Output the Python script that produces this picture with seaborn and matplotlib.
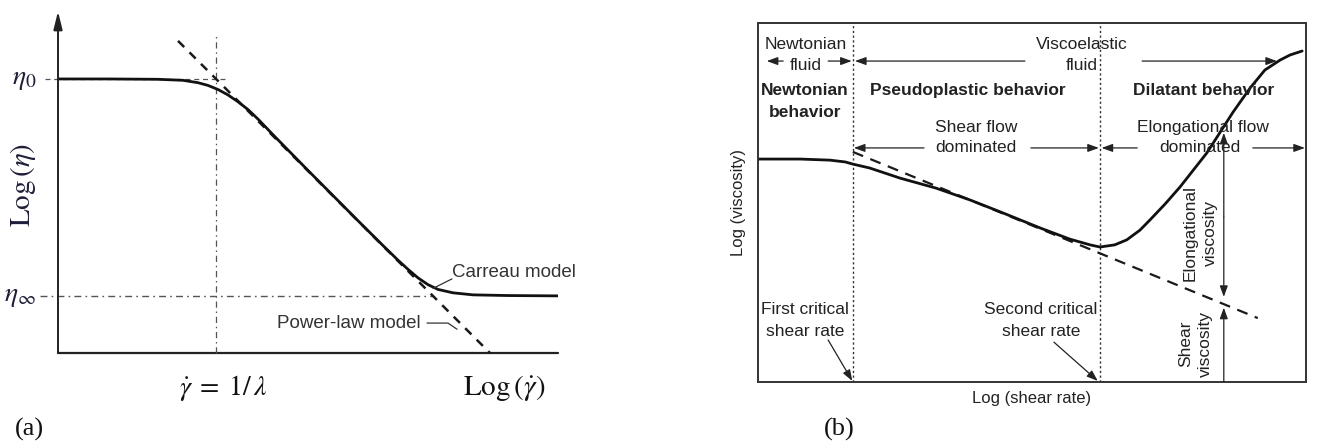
import matplotlib
matplotlib.use("Agg")
import matplotlib.pyplot as plt
import seaborn as sns
import pandas as pd

# ---------------- data: panel (a) Carreau vs power-law ----------------
log_rate_a = [0.0, 1.0, 2.0, 2.5, 2.8, 3.0, 3.2, 3.4, 3.6, 3.8, 4.0, 4.3, 5.0,
              6.0, 6.5, 6.8, 7.0, 7.2, 7.4, 7.6, 7.9, 8.3, 9.0, 10.0]
log_visc_a = [8.06, 8.06, 8.05, 8.02, 7.95, 7.87, 7.75, 7.59, 7.39, 7.16, 6.88,
              6.42, 5.37, 3.89, 3.16, 2.73, 2.46, 2.21, 2.01, 1.87, 1.77, 1.71,
              1.69, 1.68]
power_law_rate = [2.40, 8.64]
power_law_visc = [9.18, 0.0]
eta_zero = 8.06
eta_inf = 1.68
rate_lambda = 3.16

# ---------------- data: panel (b) shear / elongational regimes ----------------
log_rate_b = [0.0, 0.77, 1.31, 1.59, 1.73, 2.04, 2.59, 3.25, 3.87, 4.42, 5.15,
              5.69, 6.06, 6.24, 6.51, 6.73, 6.97, 7.15, 7.43, 7.70, 8.19, 8.67,
              8.98, 9.25, 9.53, 9.71, 9.93]
log_visc_b = [6.21, 6.21, 6.18, 6.13, 6.07, 5.96, 5.68, 5.40, 5.07, 4.74, 4.29,
              3.98, 3.82, 3.76, 3.82, 3.96, 4.23, 4.51, 4.96, 5.43, 6.38, 7.52,
              8.19, 8.69, 8.97, 9.11, 9.22]
tangent_rate = [1.73, 9.12]
tangent_visc = [6.41, 1.78]
first_critical = 1.73
second_critical = 6.24
probe_rate = 8.50
probe_elong = 7.02
probe_shear = 2.17

sns.set_theme(style="white")
plt.rcParams["font.family"] = ["Liberation Sans", "DejaVu Sans"]
plt.rcParams["mathtext.fontset"] = "stix"

W, H = 1317, 441
fig = plt.figure(figsize=(W / 100, H / 100), dpi=100)
fig.patch.set_facecolor("white")

SERIF = ["Liberation Serif", "DejaVu Serif"]
INK = "#1e1e38"

# ======================= panel (a) =======================
axA = fig.add_axes([58 / W, (H - 353) / H, 500 / W, 340 / H])
axA.set_xlim(0, 10)
axA.set_ylim(0, 10)
axA.axis("off")

# axes with arrow on the viscosity axis
axA.plot([0, 10], [0, 0], color="#222", lw=1.6, clip_on=False)
axA.annotate("", xy=(0, 10.05), xytext=(0, 0),
             arrowprops=dict(arrowstyle="-|>,head_length=0.9,head_width=0.22",
                             color="#222", lw=1.4, shrinkA=0, shrinkB=0),
             annotation_clip=False)

# reference lines
axA.plot([-0.26, 3.36], [eta_zero, eta_zero], color="#555", lw=0.9,
         linestyle=(0, (4, 3)), clip_on=False)
axA.plot([-0.36, 7.5], [eta_inf, eta_inf], color="#555", lw=1.0,
         linestyle=(0, (5, 3, 1.2, 3)), clip_on=False)
axA.plot([rate_lambda, rate_lambda], [0, 9.32], color="#555", lw=0.9,
         linestyle=(0, (5, 3, 1.2, 3)), clip_on=False)

# power-law asymptote and Carreau curve
axA.plot(power_law_rate, power_law_visc, color="#1a1a1a", lw=1.8,
         linestyle=(0, (3.5, 3)))
df_a = pd.DataFrame({"rate": log_rate_a, "visc": log_visc_a})
sns.lineplot(data=df_a, x="rate", y="visc", ax=axA, color="#111", lw=2.0,
             sort=False, estimator=None)
axA.set_xlabel("")
axA.set_ylabel("")

# annotations
axA.text(7.88, 2.38, "Carreau model", fontsize=13.5, color="#333",
         ha="left", va="center", clip_on=False)
axA.plot([7.88, 7.50], [2.18, 1.90], color="#333", lw=0.9, clip_on=False)
axA.text(7.26, 0.88, "Power-law model", fontsize=13.5, color="#333",
         ha="right", va="center")
axA.plot([7.38, 7.80, 7.98], [0.88, 0.88, 0.70], color="#333", lw=0.9)

axA.text(-0.68, eta_zero, r"$\eta_0$", fontsize=20, color=INK,
         ha="center", va="center", clip_on=False)
axA.text(-0.76, eta_inf, r"$\eta_\infty$", fontsize=20, color=INK,
         ha="center", va="center", clip_on=False)
axA.text(-0.70, 4.94, r"$\mathrm{Log}\,(\eta)$", fontsize=21, color=INK,
         rotation=90, ha="center", va="center", clip_on=False)
axA.text(3.30, -1.03, r"$\dot{\gamma}\;=\;1/\,\lambda$", fontsize=20,
         color="#111", ha="center", va="center", clip_on=False)
axA.text(8.92, -1.03, r"$\mathrm{Log}\,(\dot{\gamma})$", fontsize=21,
         color="#111", ha="center", va="center", clip_on=False)
axA.text(-0.86, -2.26, "(a)", fontsize=19, family=SERIF, color="#111",
         ha="left", va="center", clip_on=False)

# ======================= panel (b) =======================
axB = fig.add_axes([758 / W, (H - 382) / H, 548 / W, 359 / H])
axB.set_xlim(0, 10)
axB.set_ylim(0, 10)
axB.set_xticks([])
axB.set_yticks([])
for sp in axB.spines.values():
    sp.set_color("#333")
    sp.set_linewidth(1.4)
    sp.set_visible(True)

for xc in (first_critical, second_critical):
    axB.plot([xc, xc], [0, 10], color="#333", lw=1.0, linestyle=(0, (1.6, 1.8)))

axB.plot(tangent_rate, tangent_visc, color="#1a1a1a", lw=1.6,
         linestyle=(0, (5, 3.5)))
df_b = pd.DataFrame({"rate": log_rate_b, "visc": log_visc_b})
sns.lineplot(data=df_b, x="rate", y="visc", ax=axB, color="#111", lw=2.0,
             sort=False, estimator=None)
axB.set_xlabel("")
axB.set_ylabel("")

TXT = "#222"
FS = 12.5


def arrow(ax, tail, head):
    ax.annotate("", xy=head, xytext=tail,
                arrowprops=dict(arrowstyle="-|>,head_length=0.55,head_width=0.2",
                                color=TXT, lw=0.9, shrinkA=0, shrinkB=0),
                annotation_clip=False)


# top row: fluid classes
axB.text(0.88, 9.39, "Newtonian", fontsize=FS, color=TXT, ha="center", va="center")
axB.text(0.88, 8.83, "fluid", fontsize=FS, color=TXT, ha="center", va="center")
arrow(axB, (0.46, 8.94), (0.16, 8.94))
arrow(axB, (1.28, 8.94), (1.71, 8.94))
axB.text(5.90, 9.39, "Viscoelastic", fontsize=FS, color=TXT, ha="center", va="center")
axB.text(5.90, 8.83, "fluid", fontsize=FS, color=TXT, ha="center", va="center")
arrow(axB, (4.87, 8.94), (1.77, 8.94))
arrow(axB, (7.01, 8.94), (9.47, 8.94))

# behaviour headings
axB.text(0.86, 8.13, "Newtonian", fontsize=FS, weight="bold", color=TXT,
         ha="center", va="center")
axB.text(0.86, 7.52, "behavior", fontsize=FS, weight="bold", color=TXT,
         ha="center", va="center")
axB.text(3.83, 8.13, "Pseudoplastic behavior", fontsize=FS, weight="bold",
         color=TXT, ha="center", va="center")
axB.text(8.14, 8.13, "Dilatant behavior", fontsize=FS, weight="bold",
         color=TXT, ha="center", va="center")

# flow regimes
axB.text(3.98, 7.08, "Shear flow", fontsize=FS, color=TXT, ha="center", va="center")
axB.text(3.98, 6.52, "dominated", fontsize=FS, color=TXT, ha="center", va="center")
arrow(axB, (3.03, 6.52), (1.75, 6.52))
arrow(axB, (4.98, 6.52), (6.22, 6.52))
axB.text(8.12, 7.08, "Elongational flow", fontsize=FS, color=TXT, ha="center", va="center")
axB.text(8.07, 6.52, "dominated", fontsize=FS, color=TXT, ha="center", va="center")
arrow(axB, (6.92, 6.52), (6.27, 6.52))
arrow(axB, (9.03, 6.52), (9.98, 6.52))

# viscosity arrows at the probe rate
arrow(axB, (probe_rate, 4.6), (probe_rate, probe_elong - 0.08))
arrow(axB, (probe_rate, 4.6), (probe_rate, probe_shear + 0.2))
arrow(axB, (probe_rate, 0.0), (probe_rate, probe_shear - 0.1))
axB.text(8.07, 4.15, "Elongational\nviscosity", fontsize=FS, color=TXT,
         rotation=90, ha="center", va="center", multialignment="center",
         linespacing=1.4)
axB.text(7.99, 1.06, "Shear\nviscosity", fontsize=FS, color=TXT,
         rotation=90, ha="center", va="center", multialignment="center",
         linespacing=1.4)

# critical shear rates
axB.text(0.86, 2.01, "First critical", fontsize=FS, color=TXT, ha="center", va="center")
axB.text(0.86, 1.42, "shear rate", fontsize=FS, color=TXT, ha="center", va="center")
axB.text(5.16, 2.01, "Second critical", fontsize=FS, color=TXT, ha="center", va="center")
axB.text(5.16, 1.42, "shear rate", fontsize=FS, color=TXT, ha="center", va="center")
arrow(axB, (1.28, 1.17), (first_critical - 0.01, 0.03))
arrow(axB, (5.40, 1.11), (second_critical - 0.04, 0.03))

# axis titles
axB.text(-0.35, 4.99, "Log (viscosity)", fontsize=12, color=TXT,
         rotation=90, ha="center", va="center", clip_on=False)
axB.text(5.0, -0.47, "Log (shear rate)", fontsize=12, color=TXT,
         ha="center", va="center", clip_on=False)
axB.text(1.48, -1.33, "(b)", fontsize=19, family=SERIF, color="#111",
         ha="center", va="center", clip_on=False)

fig.savefig("out.png", dpi=100, facecolor="white")
